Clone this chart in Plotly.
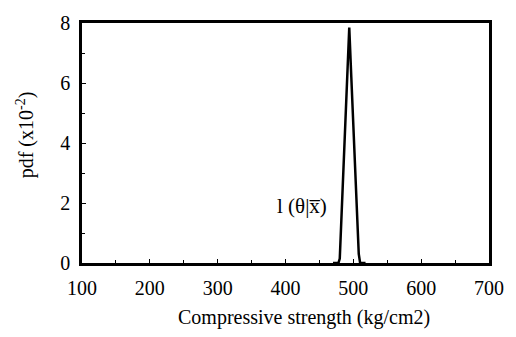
import plotly.graph_objects as go

# Data (pdf in units of 1e-2)
strength = [470, 478, 480, 484, 488, 491, 494, 497, 500, 504, 508, 510, 518]
pdf_vals = [0, 0, 0.15, 2.2, 4.3, 6.0, 7.85, 6.2, 4.6, 2.5, 0.3, 0, 0]

x_ticks = [100, 200, 300, 400, 500, 600, 700]
y_ticks = [0, 2, 4, 6, 8]

font_family = "Liberation Serif, Times New Roman, serif"

fig = go.Figure()
fig.add_trace(go.Scatter(x=strength, y=pdf_vals, mode="lines",
                         line=dict(color="black", width=2.5), showlegend=False))

fig.add_annotation(x=425, y=1.9, text="l (θ|x\u0305)", showarrow=False,
                   xanchor="center", yanchor="middle",
                   font=dict(family=font_family, size=21, color="black"))

# axis titles
fig.add_annotation(xref="paper", yref="paper", x=0.545, y=-0.228,
                   xanchor="center", yanchor="middle",
                   text="Compressive strength (kg/cm2)", showarrow=False,
                   font=dict(family=font_family, size=20, color="black"))
fig.add_annotation(xref="paper", yref="paper", x=-0.14, y=0.532,
                   xanchor="center", yanchor="middle",
                   text="pdf (x10<sup>-2</sup>)", showarrow=False, textangle=-90,
                   font=dict(family=font_family, size=20, color="black"))

fig.update_layout(
    width=516, height=337,
    margin=dict(l=82, r=25, t=13, b=74),
    paper_bgcolor="white", plot_bgcolor="white",
    font=dict(family=font_family, color="black"),
)
fig.update_xaxes(range=[100, 700], tickvals=x_ticks, showgrid=False, zeroline=False,
                 showline=True, linecolor="black", linewidth=2.5, mirror=True,
                 ticks="inside", ticklen=4, tickcolor="black",
                 minor=dict(dtick=50, ticks="inside", ticklen=3, tickcolor="black"),
                 tickfont=dict(size=20), ticklabelstandoff=5)
fig.update_yaxes(range=[0, 8], tickvals=y_ticks, showgrid=False, zeroline=False,
                 showline=True, linecolor="black", linewidth=2.5, mirror=True,
                 ticks="inside", ticklen=4, tickcolor="black",
                 minor=dict(dtick=1, ticks="inside", ticklen=3, tickcolor="black"),
                 tickfont=dict(size=20), ticklabelstandoff=5)

fig.write_html("out.html")
